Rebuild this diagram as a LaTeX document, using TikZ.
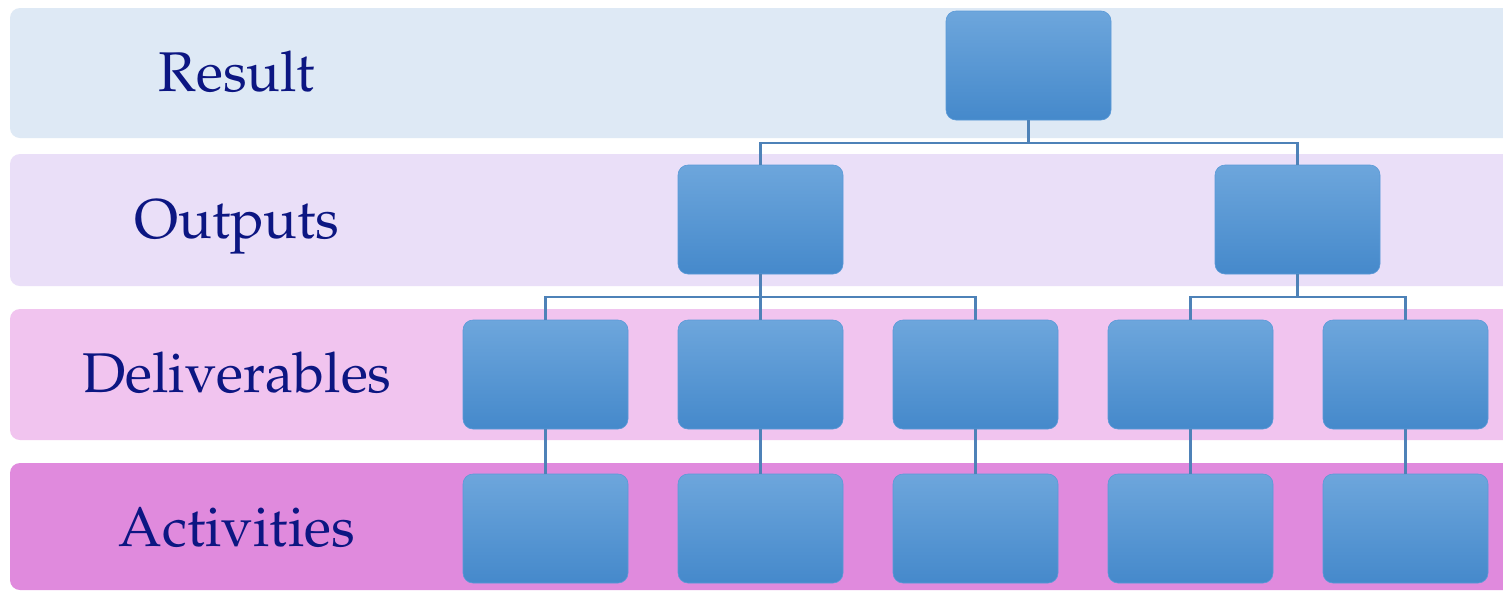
\documentclass[tikz,border=0pt]{standalone}
\usepackage[T1]{fontenc}
\renewcommand{\rmdefault}{ppl}
\definecolor{bandA}{HTML}{DEE9F5}
\definecolor{bandB}{HTML}{EADFF8}
\definecolor{bandC}{HTML}{F1C4EF}
\definecolor{bandD}{HTML}{E08ADD}
\definecolor{boxtop}{HTML}{6DA6DC}
\definecolor{boxmid}{HTML}{529BDC}
\definecolor{boxbot}{HTML}{4589CB}
\definecolor{boxedge}{HTML}{5A9AD8}
\definecolor{linkc}{HTML}{4E82B8}
\definecolor{labelc}{HTML}{0C1682}
\tikzset{
  band/.style={rounded corners=10pt},
  wbox/.style={rectangle, rounded corners=10pt, minimum width=165pt, minimum height=109pt, inner sep=0pt,
    draw=boxedge, line width=0.6pt, top color=boxtop, middle color=boxmid, bottom color=boxbot},
  link/.style={draw=linkc, line width=2.5pt},
  lvl/.style={text=labelc, font=\fontsize{56}{58}\selectfont\rmfamily, inner sep=0pt, anchor=base}
}
\begin{document}
\begin{tikzpicture}[x=1pt,y=-1pt]
\useasboundingbox (0,0) rectangle (1503,590);
\clip (0,0) rectangle (1503,590);
\fill[white] (0,0) rectangle (1503,590);
\fill[bandA, band] (10,8) rectangle (1530,138);
\fill[bandB, band] (10,154) rectangle (1530,286);
\fill[bandC, band] (10,309) rectangle (1530,440);
\fill[bandD, band] (10,463) rectangle (1530,590);
\node[lvl] (tR) at (237,91) {Result};
\node[lvl] (tO) at (237,238) {Outputs};
\node[lvl] (tD) at (237,392) {Deliverables};
\node[lvl] (tA) at (237,546) {Activities};
% boxes
\node[wbox] (r) at (1028.5,65.5) {};
\node[wbox] (o1) at (760.5,219.5) {};
\node[wbox] (o2) at (1297.5,219.5) {};
\foreach \n/\x in {1/545.5,2/760.5,3/975.5,4/1190.5,5/1405.5}{
  \node[wbox] (d\n) at (\x,374.5) {};
  \node[wbox] (a\n) at (\x,528.5) {};
}
% connectors
\coordinate (j0) at (1028.5,143);
\coordinate (j1) at (760.5,297);
\coordinate (j2) at (1297.5,297);
\draw[link] (r.south) -- (j0);
\draw[link] (j0) -| (o1.north);
\draw[link] (j0) -| (o2.north);
\draw[link] (o1.south) -- (j1);
\draw[link] (j1) -| (d1.north);
\draw[link] (j1) -- (d2.north);
\draw[link] (j1) -| (d3.north);
\draw[link] (o2.south) -- (j2);
\draw[link] (j2) -| (d4.north);
\draw[link] (j2) -| (d5.north);
\foreach \n in {1,...,5}{
  \draw[link] (d\n.south) -- (a\n.north);
}
\end{tikzpicture}
\end{document}
